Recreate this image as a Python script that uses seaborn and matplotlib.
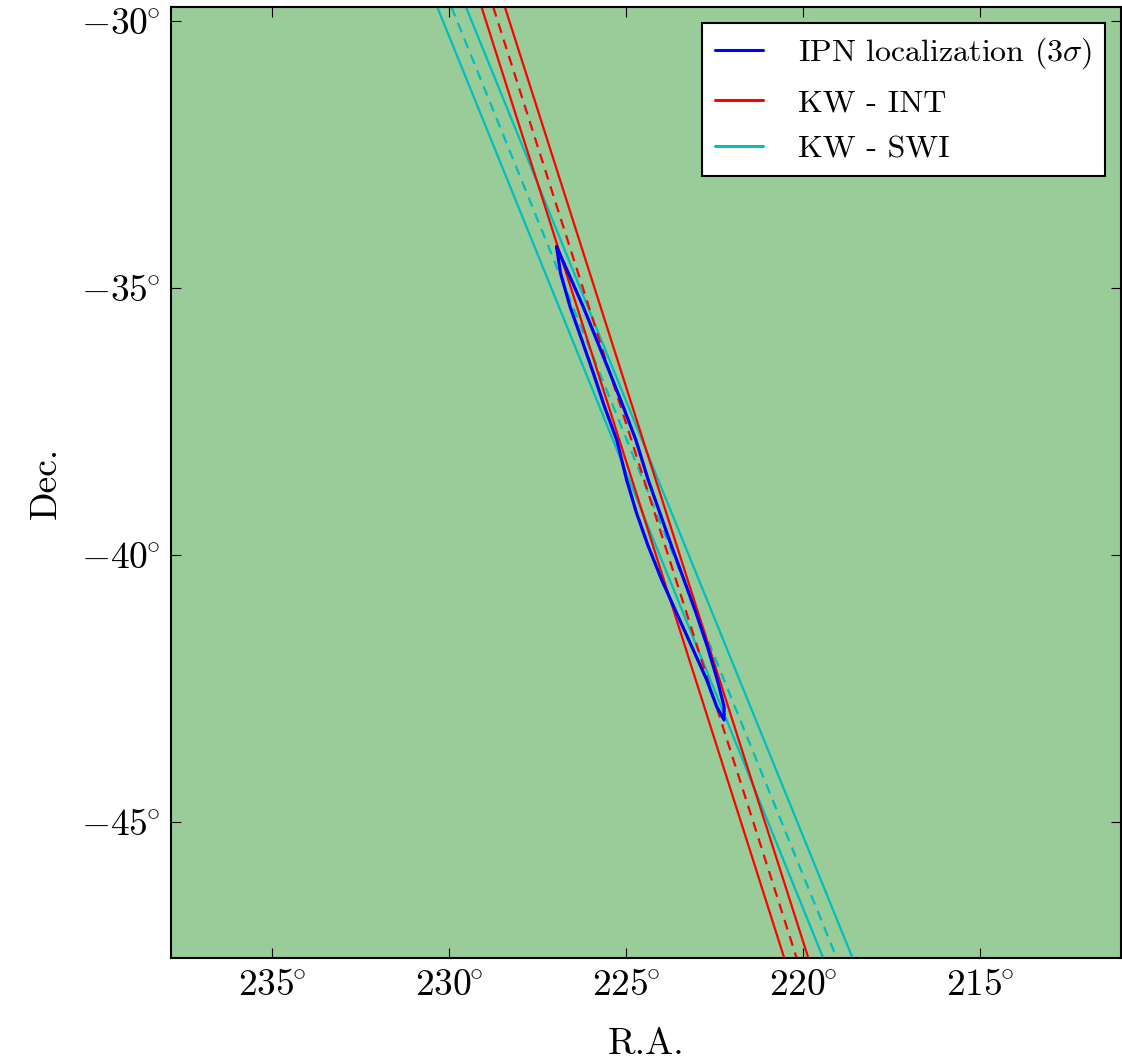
import numpy as np
import pandas as pd
import seaborn as sns
import matplotlib.pyplot as plt
import matplotlib.ticker as mticker

# Dec. at the top and bottom edge of the frame
dec_edges = [-29.74, -47.55]

# KW - INT annulus (inner edge, centre, outer edge), R.A. at the two edges
int_lo = [229.08, 220.53]
int_mid = [228.75, 220.18]
int_hi = [228.42, 219.85]

# KW - SWI annulus
swi_lo = [230.33, 219.43]
swi_mid = [229.93, 219.05]
swi_hi = [229.52, 218.60]

# IPN 3 sigma contour (closed)
ipn_ra = [226.96, 226.63, 226.21, 225.83, 225.45, 225.08, 224.72, 224.37, 224.04,
          223.71, 223.36, 223.02, 222.70, 222.42, 222.23, 222.23,
          222.44, 222.72, 223.14, 223.57, 223.99, 224.37, 224.70, 224.98,
          225.26, 225.61, 225.92, 226.25, 226.58, 226.85, 226.96]
ipn_dec = [-34.23, -34.72, -35.35, -35.97, -36.60, -37.22, -37.85, -38.60, -39.22,
           -39.84, -40.47, -41.09, -41.72, -42.34, -42.84, -43.09,
           -42.84, -42.34, -41.72, -41.09, -40.47, -39.84, -39.22, -38.60,
           -37.85, -37.22, -36.60, -35.97, -35.35, -34.72, -34.23]

ra_ticks = [235, 230, 225, 220, 215]
dec_ticks = [-30, -35, -40, -45]

sns.set_style("ticks")
plt.rcParams.update({
    "font.family": "serif",
    "font.serif": ["cmr10"],
    "mathtext.fontset": "cm",
    "axes.unicode_minus": False,
    "axes.linewidth": 1.5,
    "axes.edgecolor": "black",
    "text.color": "black",
    "axes.labelcolor": "black",
    "xtick.color": "black",
    "ytick.color": "black",
})

fig = plt.figure(figsize=(11.22, 10.62), dpi=100)
ax = fig.add_axes([0.1524, 0.0979, 0.8467, 0.8955])
ax.set_facecolor("#99cc99")

lw = 1.6
sns.lineplot(x=swi_lo, y=dec_edges, sort=False, estimator=None, color="c", lw=lw, ax=ax)
sns.lineplot(x=swi_mid, y=dec_edges, sort=False, estimator=None, color="c", lw=lw, ax=ax)
sns.lineplot(x=swi_hi, y=dec_edges, sort=False, estimator=None, color="c", lw=lw, ax=ax)
sns.lineplot(x=int_lo, y=dec_edges, sort=False, estimator=None, color="r", lw=lw, ax=ax)
sns.lineplot(x=int_mid, y=dec_edges, sort=False, estimator=None, color="r", lw=lw, ax=ax)
sns.lineplot(x=int_hi, y=dec_edges, sort=False, estimator=None, color="r", lw=lw, ax=ax)
sns.lineplot(x=ipn_ra, y=ipn_dec, sort=False, estimator=None, color="b", lw=2.3, ax=ax)

lines = ax.get_lines()
# centre lines of the annuli are dashed
for ln in (lines[1], lines[4]):
    ln.set_dashes((4.5, 3.2))

handles = [lines[6], lines[3], lines[0]]
labels = [r"IPN localization ($3\sigma$)", "KW - INT", "KW - SWI"]
leg = ax.legend(handles, labels, loc="upper right", fontsize=23, fancybox=False,
                framealpha=1, edgecolor="black", handlelength=1.5,
                handletextpad=1.1, labelspacing=0.55, borderaxespad=0.5)
leg.get_frame().set_linewidth(1.5)
for h in leg.get_lines():
    h.set_linewidth(2.2)

ax.set_xlim(237.85, 211.02)
ax.set_ylim(dec_edges[1], dec_edges[0])
ax.set_xticks(ra_ticks)
ax.set_yticks(dec_ticks)
deg = mticker.FuncFormatter(lambda v, p: r"$%d^{\!\!\circ}$" % round(v))
ax.xaxis.set_major_formatter(deg)
ax.yaxis.set_major_formatter(deg)
ax.tick_params(which="major", direction="in", length=7, width=0.8,
               top=True, right=True, labelsize=27, pad=8)
ax.set_xlabel("R.A.", fontsize=27, labelpad=18)
ax.set_ylabel("Dec.", fontsize=27, labelpad=13)

fig.savefig("out.png", dpi=100)
